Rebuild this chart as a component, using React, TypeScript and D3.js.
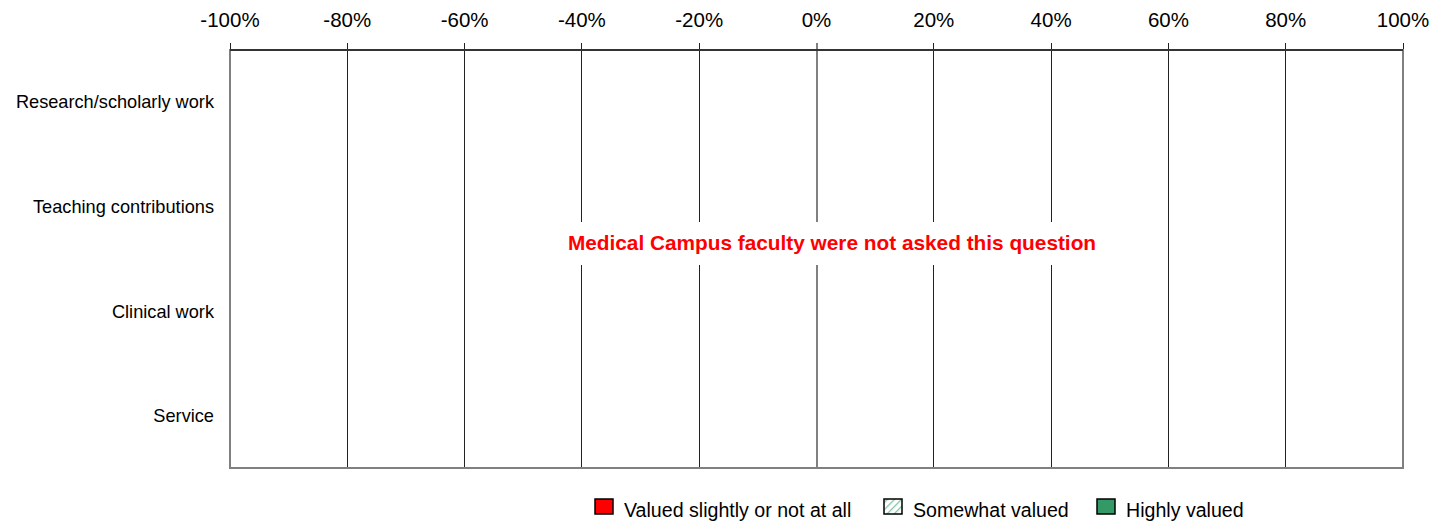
import React from "react";
import * as d3 from "d3";

const categories = ["Research/scholarly work", "Teaching contributions", "Clinical work", "Service"];
const tickValues = [-1, -0.8, -0.6, -0.4, -0.2, 0, 0.2, 0.4, 0.6, 0.8, 1];
const seriesNames = ["Valued slightly or not at all", "Somewhat valued", "Highly valued"];
const seriesColors = ["#ff0000", "url(#hatch)", "#339966"];
const message = "Medical Campus faculty were not asked this question";

const W = 1434;
const H = 523;
const M = { left: 230, right: 1403, top: 49, bottom: 468 };

export default function App() {
  const x = d3.scaleLinear().domain([-1, 1]).range([M.left, M.right]);
  const y = d3.scaleBand().domain(categories).range([M.top, M.bottom]);
  const fmt = (v: number) => `${Math.round(v * 100)}%`;
  const font = "'Liberation Sans', Arial, sans-serif";
  const legendX = [595, 884, 1097];

  return (
    <svg width={W} height={H} style={{ position: "absolute", left: 0, top: 0 }} fontFamily={font}>
      <defs>
        <pattern id="hatch" patternUnits="userSpaceOnUse" width="5" height="5" patternTransform="rotate(45)">
          <rect width="5" height="5" fill="#ffffff" />
          <line x1="0" y1="0" x2="0" y2="5" stroke="#7fc4a3" strokeWidth="2.5" />
        </pattern>
      </defs>
      <rect x={0} y={0} width={W} height={H} fill="#ffffff" />
      {tickValues.map((t) => (
        <line
          key={"g" + t}
          x1={x(t)}
          x2={x(t)}
          y1={43}
          y2={M.bottom}
          stroke={t === 0 ? "#808080" : "#222"}
          strokeWidth={t === 0 ? 2 : 1}
          shapeRendering="crispEdges"
        />
      ))}
      {tickValues.map((t) => (
        <text key={"t" + t} x={x(t)} y={27} textAnchor="middle" fontSize={20.5} fill="#000">
          {fmt(t)}
        </text>
      ))}
      <line x1={M.left} x2={M.left} y1={M.top} y2={M.bottom} stroke="#808080" strokeWidth={2} />
      <line x1={M.right} x2={M.right} y1={M.top} y2={M.bottom + 1} stroke="#808080" strokeWidth={2} />
      <line x1={M.left - 1} x2={M.right + 1} y1={M.bottom} y2={M.bottom} stroke="#808080" strokeWidth={2} />
      <line x1={M.left} x2={M.right} y1={50} y2={50} stroke="#333" strokeWidth={2} />
      {categories.map((c) => (
        <text
          key={c}
          x={214}
          y={(y(c) as number) + y.bandwidth() / 2 + 2}
          textAnchor="end"
          dominantBaseline="middle"
          fontSize={18.2}
          fill="#000"
        >
          {c}
        </text>
      ))}
      <rect x={556} y={222} width={552} height={43} fill="#ffffff" />
      <text x={832} y={244} textAnchor="middle" dominantBaseline="middle" fontSize={20.8} fontWeight="bold" fill="#ff0000">
        {message}
      </text>
      {seriesNames.map((s, i) => (
        <g key={s}>
          <rect x={legendX[i]} y={499} width={18} height={15} fill={seriesColors[i]} stroke="#000" strokeWidth={1.5} />
          <text x={legendX[i] + 29} y={517} fontSize={19.6} fill="#000">
            {s}
          </text>
        </g>
      ))}
    </svg>
  );
}
